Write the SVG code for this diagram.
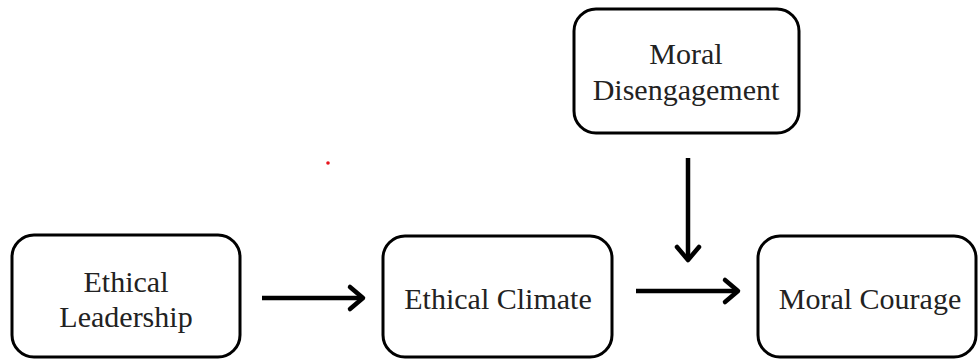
<svg xmlns="http://www.w3.org/2000/svg" width="979" height="360" viewBox="0 0 979 360">
<style>
.box{fill:#fff;stroke:#000;stroke-width:3}
.t{font-family:"Liberation Serif","Times New Roman",serif;font-size:30px;fill:#222;text-anchor:middle}
.c{stroke:#000;stroke-width:4.5;fill:none}
.h{stroke:#000;stroke-width:4.5;fill:none;stroke-linecap:round;stroke-linejoin:round}
</style>
<rect width="979" height="360" fill="#fff"/>
<g id="ethical-leadership">
<rect class="box" x="12" y="235" width="228" height="122" rx="22"/>
<text class="t" x="126" y="292">Ethical</text>
<text class="t" x="126" y="327">Leadership</text>
</g>
<g id="ethical-climate">
<rect class="box" x="383" y="236" width="229" height="121" rx="22"/>
<text class="t" x="498" y="309">Ethical Climate</text>
</g>
<g id="moral-disengagement">
<rect class="box" x="574" y="9" width="225" height="124" rx="22"/>
<text class="t" x="686" y="64">Moral</text>
<text class="t" x="686" y="100">Disengagement</text>
</g>
<g id="moral-courage">
<rect class="box" x="758" y="236" width="218" height="121" rx="22"/>
<text class="t" x="870" y="309">Moral Courage</text>
</g>
<g id="connectors">
<line class="c" x1="262" y1="298" x2="363" y2="298"/>
<polyline class="h" points="350,287 363,298 350,309"/>
<line class="c" x1="636" y1="291" x2="738" y2="291"/>
<polyline class="h" points="725,280 738,291 725,302"/>
<line class="c" x1="688" y1="158" x2="688" y2="260"/>
<polyline class="h" points="677,247 688,260 699,247"/>
</g>
<circle cx="328" cy="163" r="1.8" fill="#e8141c"/>
</svg>
